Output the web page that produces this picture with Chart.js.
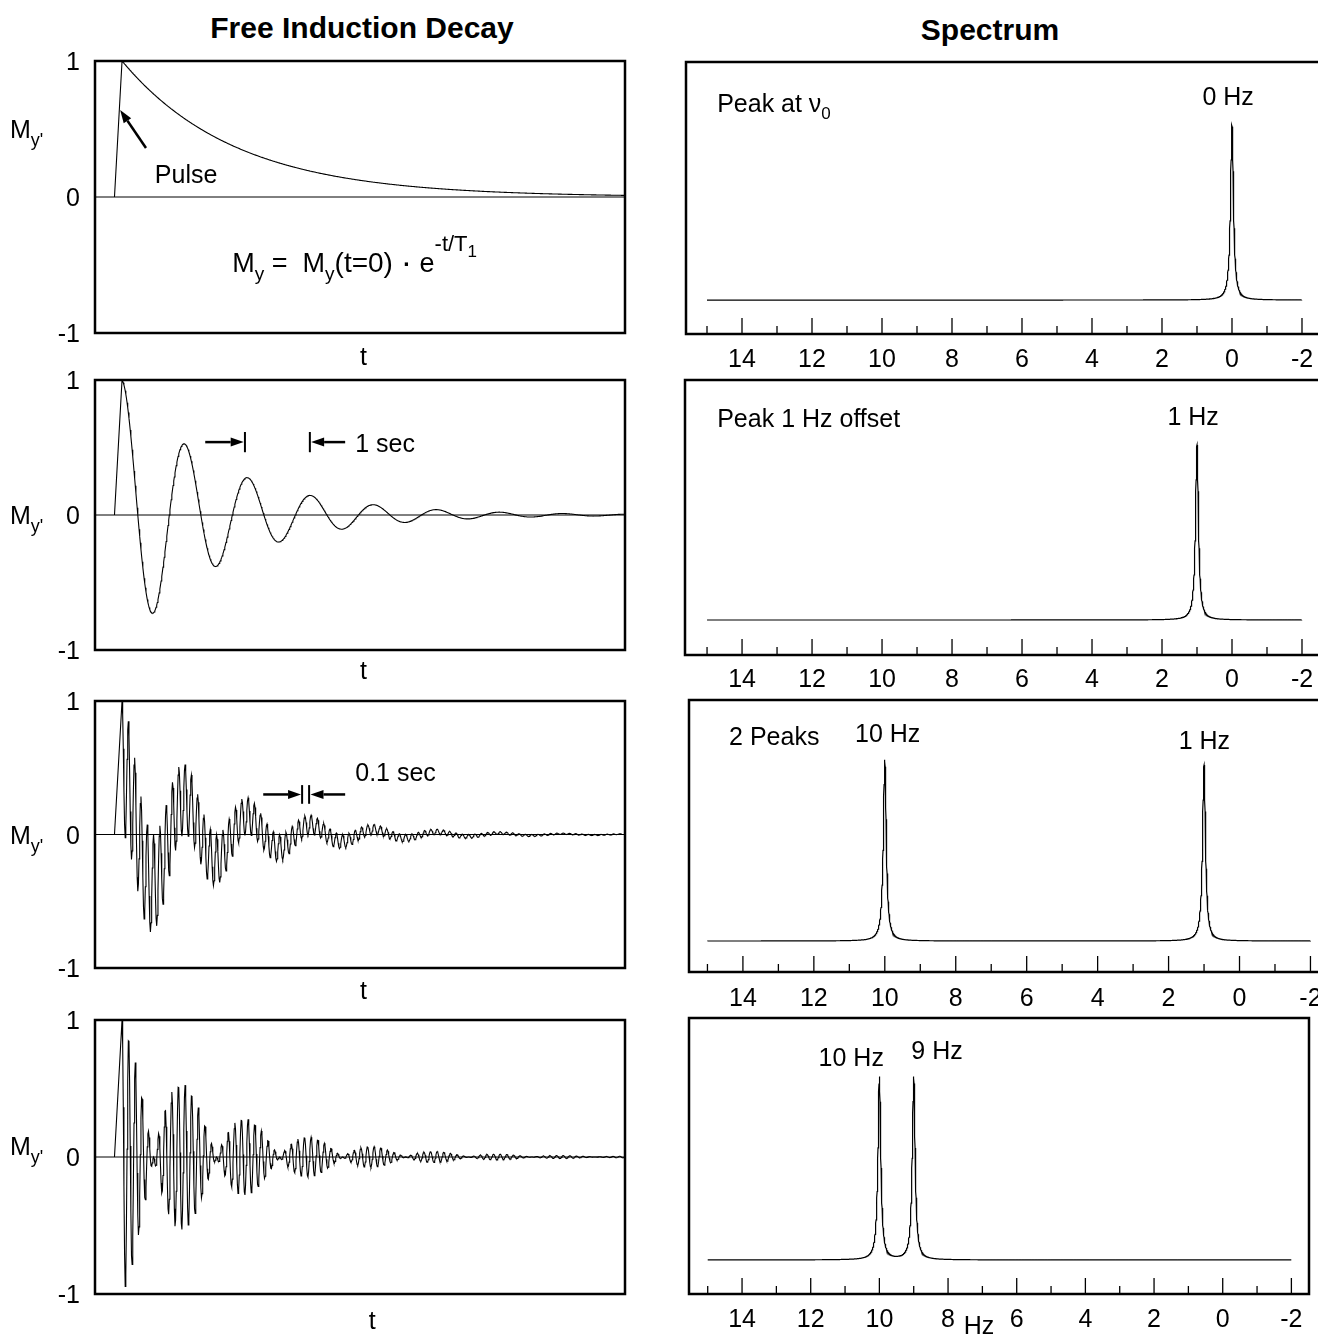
<!DOCTYPE html>
<html>
<head>
<meta charset="utf-8">
<script src="https://cdn.jsdelivr.net/npm/chart.js@4.4.0/dist/chart.umd.min.js"></script>
<style>
  html, body { margin: 0; padding: 0; background: #fff; overflow: hidden; width: 1318px; height: 1336px; }
  .title { position: absolute; font: bold 30px 'Liberation Sans', Arial, sans-serif; color: #000; text-align: center; width: 400px; }
  canvas { position: absolute; }
</style>
</head>
<body>
<div class="title" style="left:162px;top:11px">Free Induction Decay</div>
<div class="title" style="left:790px;top:13px">Spectrum</div>
<canvas id="fid0"></canvas><canvas id="fid1"></canvas><canvas id="fid2"></canvas><canvas id="fid3"></canvas>
<canvas id="spec0"></canvas><canvas id="spec1"></canvas><canvas id="spec2"></canvas><canvas id="spec3"></canvas>
<script>
// line positions relative to the carrier, one list per row (Hz)
const peakFreqs = [[0], [1], [10, 1], [10, 9]];
const peakHeights = [[1.0], [1.0], [1.03, 1.0], [1.0, 1.0]];
const decayT = [1.8, 1.55, 1.55, 1.55];   // s
const pulseStart = -0.12;                  // s, start of the rf pulse ramp
const fidEnd = 7.98;                       // s
const halfWidth = 0.05;                    // Hz, lorentzian half width
const specFrom = 15, specTo = -2;          // Hz, plotted span

const freqMajor = [14, 12, 10, 8, 6, 4, 2, 0, -2];
const freqMinor = [15, 13, 11, 9, 7, 5, 3, 1, -1];
const freqLabels = ['14', '12', '10', '8', '6', '4', '2', '0', '-2'];
const ampTicks = [1, 0, -1];
const ampLabels = ['1', '0', '-1'];

const FONT = "'Liberation Sans', Arial, Helvetica, sans-serif";

function fidPoints(row) {
  const fs = peakFreqs[row], as = peakHeights[row].map(() => 1);
  const norm = as.reduce((s, v) => s + v, 0);
  const pts = [{ x: pulseStart, y: 0 }];
  for (let i = 0; i * 0.01 <= fidEnd; i++) {
    const t = i * 0.01;
    let v = 0;
    fs.forEach((f, k) => { v += as[k] * Math.cos(2 * Math.PI * f * t); });
    pts.push({ x: t, y: v / norm * Math.exp(-t / decayT[row]) });
  }
  return pts;
}

function specPoints(row) {
  const pts = [];
  const n = Math.round((specFrom - specTo) / 0.005);
  for (let i = 0; i <= n; i++) {
    const f = Math.round((specFrom - i * 0.005) * 1000) / 1000;
    let v = 0;
    peakFreqs[row].forEach((f0, k) => {
      const d = (f - f0) / halfWidth;
      v += peakHeights[row][k] / (1 + d * d);
    });
    pts.push({ x: f, y: v });
  }
  return pts;
}

function runsWidth(ctx, runs) {
  let w = 0;
  runs.forEach(r => { ctx.font = r[1] + 'px ' + FONT; w += ctx.measureText(r[0]).width; });
  return w;
}

// runs: [text, size, dy]; py is the middle of the main text
function drawRuns(ctx, runs, px, py, align) {
  const w = runsWidth(ctx, runs);
  let cx = align === 'center' ? px - w / 2 : align === 'right' ? px - w : px;
  const base = py + runs[0][1] * 0.36;
  ctx.textAlign = 'left';
  ctx.textBaseline = 'alphabetic';
  ctx.fillStyle = '#000';
  runs.forEach(r => {
    ctx.font = r[1] + 'px ' + FONT;
    ctx.fillText(r[0], cx, base + (r[2] || 0));
    cx += ctx.measureText(r[0]).width;
  });
}

function arrow(ctx, x1, y1, x2, y2) {
  const ang = Math.atan2(y2 - y1, x2 - x1), hl = 13, hw = 4.5;
  const bx = x2 - hl * Math.cos(ang), by = y2 - hl * Math.sin(ang);
  ctx.lineWidth = 2.5;
  ctx.beginPath(); ctx.moveTo(x1, y1); ctx.lineTo(bx, by); ctx.stroke();
  ctx.beginPath();
  ctx.moveTo(x2, y2);
  ctx.lineTo(bx - hw * Math.sin(ang), by + hw * Math.cos(ang));
  ctx.lineTo(bx + hw * Math.sin(ang), by - hw * Math.cos(ang));
  ctx.closePath(); ctx.fill();
}

function decorPlugin(o) {
  return {
    id: 'decor',
    beforeDatasetsDraw(chart) {
      if (!o.zero) return;
      const { ctx, chartArea: a, scales: { y } } = chart;
      const py = y.getPixelForValue(0);
      ctx.save();
      ctx.strokeStyle = '#000'; ctx.lineWidth = 1;
      ctx.beginPath(); ctx.moveTo(a.left, py); ctx.lineTo(a.right, py); ctx.stroke();
      ctx.restore();
    },
    afterDraw(chart) {
      const { ctx, chartArea: a, scales: { x, y } } = chart;
      ctx.save();
      ctx.strokeStyle = '#000'; ctx.fillStyle = '#000';
      ctx.lineWidth = 2.5;
      ctx.strokeRect(a.left, a.top, a.right - a.left, a.bottom - a.top);

      if (o.xTicks) {
        ctx.lineWidth = 1.3;
        freqMajor.forEach(v => {
          const px = x.getPixelForValue(v);
          ctx.beginPath(); ctx.moveTo(px, a.bottom); ctx.lineTo(px, a.bottom - 16); ctx.stroke();
        });
        freqMinor.forEach(v => {
          const px = x.getPixelForValue(v);
          ctx.beginPath(); ctx.moveTo(px, a.bottom); ctx.lineTo(px, a.bottom - 8); ctx.stroke();
        });
        freqMajor.forEach((v, i) => {
          drawRuns(ctx, [[freqLabels[i], 25]], x.getPixelForValue(v), a.bottom + o.xTicks.gap, 'center');
        });
      }
      if (o.yTicks) {
        ampTicks.forEach((v, i) => {
          drawRuns(ctx, [[ampLabels[i], 25]], a.left - 15, y.getPixelForValue(v), 'right');
        });
      }
      (o.texts || []).forEach(t => {
        drawRuns(ctx, t.runs, x.getPixelForValue(t.x), y.getPixelForValue(t.y), t.align || 'left');
      });
      (o.below || []).forEach(t => {
        drawRuns(ctx, t.runs, x.getPixelForValue(t.x), a.bottom + t.gap, 'center');
      });
      (o.side || []).forEach(t => {
        drawRuns(ctx, t.runs, t.left, y.getPixelForValue(t.y), 'left');
      });
      (o.arrows || []).forEach(ar => {
        arrow(ctx, x.getPixelForValue(ar[0]), y.getPixelForValue(ar[1]),
                   x.getPixelForValue(ar[2]), y.getPixelForValue(ar[3]));
      });
      ctx.lineWidth = 2;
      (o.bars || []).forEach(b => {
        const px = x.getPixelForValue(b[0]);
        ctx.beginPath();
        ctx.moveTo(px, y.getPixelForValue(b[1] + b[2]));
        ctx.lineTo(px, y.getPixelForValue(b[1] - b[2]));
        ctx.stroke();
      });
      ctx.restore();
    }
  };
}

function panel(id, canvasBox, box, xr, yr, reverse, points, decor, lw) {
  const cv = document.getElementById(id);
  cv.width = canvasBox.w; cv.height = canvasBox.h;
  cv.style.left = canvasBox.l + 'px'; cv.style.top = canvasBox.t + 'px';
  return new Chart(cv, {
    type: 'line',
    data: { datasets: [{ data: points, borderColor: '#000', borderWidth: lw, pointRadius: 0, tension: 0, fill: false }] },
    options: {
      responsive: false, animation: false, devicePixelRatio: 1,
      layout: { padding: {
        left: box.l - canvasBox.l, top: box.t - canvasBox.t,
        right: canvasBox.l + canvasBox.w - box.r, bottom: canvasBox.t + canvasBox.h - box.b } },
      scales: {
        x: { type: 'linear', display: false, min: xr[0], max: xr[1], reverse: reverse },
        y: { type: 'linear', display: false, min: yr[0], max: yr[1] }
      },
      plugins: { legend: { display: false }, tooltip: { enabled: false } }
    },
    plugins: [decorPlugin(decor)]
  });
}

const myLabel = [['M', 25], ["y'", 18, 8]];

// free induction decay panels
const fidBoxes = [{ t: 61, b: 333 }, { t: 380, b: 650 }, { t: 701, b: 968 }, { t: 1020, b: 1294 }];
const fidDecor = [
  {
    side: [{ left: 10, y: 0.5, runs: myLabel }],
    below: [{ x: 3.83, gap: 23, runs: [['t', 25]] }],
    arrows: [[0.38, 0.36, -0.03, 0.64]],
    texts: [
      { x: 0.52, y: 0.17, runs: [['Pulse', 25]] },
      { x: 1.75, y: -0.48, runs: [['M', 27], ['y', 19, 8], [' =  ', 27], ['M', 27], ['y', 19, 8],
          ['(t=0) ', 28], ['\u00b7', 34, 1], [' e', 27], ['-t/T', 22, -21], ['1', 17, -15]] }
    ]
  },
  {
    side: [{ left: 10, y: 0.0, runs: myLabel }],
    below: [{ x: 3.83, gap: 20, runs: [['t', 25]] }],
    arrows: [[1.32, 0.54, 1.93, 0.54], [3.54, 0.54, 3.0, 0.54]],
    bars: [[1.95, 0.54, 0.075], [2.98, 0.54, 0.075]],
    texts: [{ x: 3.70, y: 0.53, runs: [['1 sec', 25]] }]
  },
  {
    side: [{ left: 10, y: 0.0, runs: myLabel }],
    below: [{ x: 3.83, gap: 22, runs: [['t', 25]] }],
    arrows: [[2.24, 0.30, 2.84, 0.30], [3.54, 0.30, 2.99, 0.30]],
    bars: [[2.857, 0.30, 0.07], [2.968, 0.30, 0.07]],
    texts: [{ x: 3.70, y: 0.47, runs: [['0.1 sec', 25]] }]
  },
  {
    side: [{ left: 10, y: 0.08, runs: myLabel }],
    below: [{ x: 3.97, gap: 26, runs: [['t', 25]] }]
  }
];
fidBoxes.forEach((b, i) => {
  const d = Object.assign({ zero: true, yTicks: true }, fidDecor[i]);
  panel('fid' + i, { l: 0, t: b.t - 45, w: 660, h: b.b - b.t + 90 },
        { l: 95, t: b.t, r: 625, b: b.b }, [-0.429, 7.98], [-1, 1], false, fidPoints(i), d, 1.1);
});

// spectra
const specBoxes = [
  { l: 686, t: 62, r: 1321, b: 334 }, { l: 685, t: 380, r: 1321, b: 655 },
  { l: 689, t: 700, r: 1325, b: 972 }, { l: 689, t: 1018, r: 1309, b: 1294 }
];
const specX = [[-2.543, 15.6], [-2.543, 15.63], [-2.41, 15.52], [-2.513, 15.545]];
const specY = [[-0.194, 1.36], [-0.2, 1.371], [-0.176, 1.369], [-0.186, 1.322]];
const specDecor = [
  { xTicks: { gap: 24 }, texts: [
      { x: 14.71, y: 1.126, runs: [['Peak at \u03bd', 25], ['0', 17, 7]] },
      { x: 0.11, y: 1.166, align: 'center', runs: [['0 Hz', 25]] }] },
  { xTicks: { gap: 23 }, texts: [
      { x: 14.71, y: 1.154, runs: [['Peak 1 Hz offset', 25]] },
      { x: 1.11, y: 1.166, align: 'center', runs: [['1 Hz', 25]] }] },
  { xTicks: { gap: 25 }, texts: [
      { x: 14.39, y: 1.165, runs: [['2 Peaks', 25]] },
      { x: 9.92, y: 1.18, align: 'center', runs: [['10 Hz', 25]] },
      { x: 0.99, y: 1.142, align: 'center', runs: [['1 Hz', 25]] }] },
  { xTicks: { gap: 24 }, texts: [
      { x: 10.82, y: 1.109, align: 'center', runs: [['10 Hz', 25]] },
      { x: 8.32, y: 1.148, align: 'center', runs: [['9 Hz', 25]] }],
    below: [{ x: 7.1, gap: 31, runs: [['Hz', 25]] }] }
];
specBoxes.forEach((b, i) => {
  panel('spec' + i, { l: 660, t: b.t - 45, w: 680, h: b.b - b.t + 90 },
        b, specX[i], specY[i], true, specPoints(i), specDecor[i], 1.2);
});
</script>
</body>
</html>
